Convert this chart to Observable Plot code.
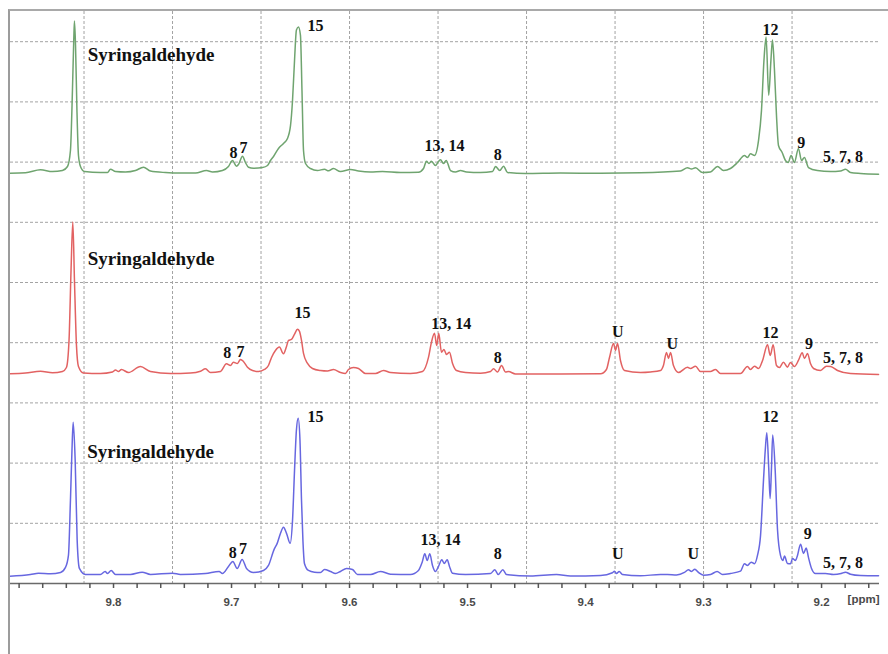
<!DOCTYPE html>
<html>
<head>
<meta charset="utf-8">
<script src="https://cdn.jsdelivr.net/npm/d3@7"></script>
<script src="https://cdn.jsdelivr.net/npm/@observablehq/plot@0.6"></script>
<style>
  body { margin: 0; background: #fff; }
  #chart {
    position: absolute; left: 8px; top: 9px;
    width: 880px; height: 645px;
    border-top: 2px solid #a9a9a9; border-left: 2px solid #9c9c9c;
    overflow: hidden;
  }
</style>
</head>
<body>
<div id="chart"></div>
<script>
// 1H NMR aldehyde region, three stacked spectra: [ppm, intensity (a.u.)]
const topSpectrum = [
  [9.8882,0.3],[9.8746,0.7],[9.8619,3.7],[9.8517,2],[9.8433,3],[9.8390,7],[9.8365,23],[9.8348,83],
  [9.8337,133],[9.8331,152],[9.8322,128],[9.8310,63],[9.8297,18],[9.8280,7],[9.8246,2],[9.8111,1],
  [9.8051,1],[9.8026,4.3],[9.7983,2],[9.7899,1.5],[9.7814,3],[9.7746,6.3],[9.7687,2.5],[9.7560,1],
  [9.7433,0.5],[9.7305,0.5],[9.7212,3],[9.7161,1.5],[9.7077,3],[9.7026,7],[9.6992,13],[9.6958,7.3],
  [9.6941,9],[9.6907,17.3],[9.6882,11],[9.6856,6.3],[9.6814,5.3],[9.6737,6],[9.6695,8],[9.6670,13],
  [9.6644,17],[9.6602,25],[9.6560,30],[9.6526,35],[9.6500,48],[9.6483,73],[9.6466,113],[9.6450,143],
  [9.6433,146],[9.6416,138],[9.6403,83],[9.6390,23],[9.6373,10],[9.6331,5],[9.6272,3],[9.6212,4.3],
  [9.6178,2.7],[9.6136,5],[9.6077,2],[9.5992,4],[9.5924,2.5],[9.5822,1.5],[9.5721,2],[9.5568,1],
  [9.5416,1.3],[9.5373,5],[9.5348,12.3],[9.5327,10],[9.5306,12.3],[9.5272,8],[9.5246,12],[9.5229,13.7],
  [9.5204,10],[9.5181,13],[9.5144,3],[9.5102,1.5],[9.5060,3],[9.5009,1.5],[9.4890,1],[9.4788,2],
  [9.4763,7],[9.4727,3],[9.4695,7.3],[9.4661,1],[9.4509,0],[9.4212,0.5],[9.3873,0.3],[9.3535,0.7],
  [9.3196,2.5],[9.3136,5.7],[9.3102,4.5],[9.3068,5.7],[9.3009,1],[9.2942,1.5],[9.2882,7],[9.2831,3],
  [9.2772,5],[9.2712,11],[9.2653,18],[9.2628,16],[9.2602,19.7],[9.2568,18],[9.2534,33],[9.2509,63],
  [9.2488,113],[9.2470,136],[9.2448,78],[9.2429,113],[9.2416,133],[9.2399,103],[9.2382,58],[9.2365,28],
  [9.2334,21],[9.2306,13],[9.2283,11],[9.2258,18],[9.2230,11],[9.2196,25],[9.2170,13],[9.2145,16],
  [9.2111,6],[9.2035,3],[9.1924,2],[9.1839,2.5],[9.1797,4.3],[9.1755,1],[9.1670,0],[9.1517,-0.7]
];

const middleSpectrum = [
  [9.8882,0.2],[9.8746,1],[9.8619,2.8],[9.8517,1.2],[9.8433,2.5],[9.8399,6.5],[9.8377,33.5],[9.8360,103.5],
  [9.8345,151.5],[9.8331,93.5],[9.8314,28.5],[9.8297,7.5],[9.8255,1],[9.8111,0.5],[9.8009,2],[9.7983,4],
  [9.7958,2.5],[9.7933,4.5],[9.7873,1.5],[9.7772,7.5],[9.7687,2.5],[9.7517,0.5],[9.7348,1],[9.7263,2.8],
  [9.7221,5.2],[9.7178,1.5],[9.7094,2.5],[9.7043,10.2],[9.7009,8.5],[9.6984,11.8],[9.6950,10.5],[9.6924,14.5],
  [9.6899,12.5],[9.6865,6.8],[9.6822,3.5],[9.6771,2.5],[9.6721,4.5],[9.6687,8.5],[9.6661,16.5],[9.6628,23.5],
  [9.6594,26.8],[9.6560,20.2],[9.6534,27.5],[9.6517,33.5],[9.6492,34.5],[9.6467,39.5],[9.6441,44.5],[9.6424,42.5],
  [9.6407,33.5],[9.6390,20.5],[9.6356,10.5],[9.6314,5.5],[9.6246,3.5],[9.6187,3],[9.6136,4.5],[9.6077,1.5],
  [9.6035,0.5],[9.6009,4.5],[9.5967,6.5],[9.5924,5.5],[9.5865,0.5],[9.5780,0.5],[9.5712,3.5],[9.5653,1.5],
  [9.5484,0.5],[9.5382,2.5],[9.5331,16.5],[9.5306,31.5],[9.5280,40.5],[9.5261,28.5],[9.5244,40.5],[9.5221,21.8],
  [9.5200,24.5],[9.5178,19.5],[9.5153,21.8],[9.5127,10.5],[9.5093,3.5],[9.5017,1.5],[9.4890,0.8],[9.4805,2.5],
  [9.4780,5.2],[9.4746,2],[9.4712,8.5],[9.4678,2],[9.4653,2.5],[9.4594,0],[9.4212,0],[9.3873,0.2],
  [9.3823,4.5],[9.3797,16.5],[9.3763,30.5],[9.3746,23.5],[9.3729,30.5],[9.3704,13.5],[9.3670,3.5],[9.3535,1.5],
  [9.3450,2],[9.3365,3.5],[9.3340,8.5],[9.3314,21.5],[9.3297,15.5],[9.3280,21.5],[9.3255,8.5],[9.3212,1.5],
  [9.3136,6.8],[9.3111,5.5],[9.3068,7.8],[9.3026,2.5],[9.2942,2.5],[9.2899,4.5],[9.2857,0.5],[9.2687,0.5],
  [9.2628,7.5],[9.2602,4.5],[9.2568,7.8],[9.2534,5.5],[9.2500,13.5],[9.2458,29.2],[9.2435,18.5],[9.2410,29.2],
  [9.2382,8.5],[9.2357,6.5],[9.2323,11.8],[9.2289,6.8],[9.2264,11.5],[9.2230,7.5],[9.2196,13.5],[9.2164,21.2],
  [9.2145,15.5],[9.2119,20.5],[9.2094,10.5],[9.2068,5.5],[9.2009,3.5],[9.1958,7.8],[9.1924,7.5],[9.1865,3.5],
  [9.1755,0.5],[9.1517,-0.5]
];

const bottomSpectrum = [
  [9.8882,-0.2],[9.8704,1.5],[9.8636,2.8],[9.8534,2.2],[9.8449,3.5],[9.8407,8.5],[9.8382,20.5],[9.8365,75.5],
  [9.8352,125.5],[9.8342,153.2],[9.8325,115.5],[9.8308,35.5],[9.8289,7.5],[9.8238,1.5],[9.8111,1.5],[9.8071,4.5],
  [9.8051,2.5],[9.8020,5.5],[9.7983,1.5],[9.7856,1.5],[9.7757,3.8],[9.7687,1.5],[9.7500,2.8],[9.7433,1.5],
  [9.7221,2.5],[9.7105,4.5],[9.7077,2.5],[9.7026,9.5],[9.6989,14.5],[9.6952,7.5],[9.6910,16.5],[9.6873,7.5],
  [9.6814,3.5],[9.6729,5.5],[9.6687,10.5],[9.6639,26.5],[9.6613,32.5],[9.6585,42.5],[9.6560,48.5],[9.6534,42.5],
  [9.6503,32.5],[9.6483,55.5],[9.6466,105.5],[9.6450,145.5],[9.6435,157.2],[9.6420,135.5],[9.6407,75.5],[9.6395,35.5],
  [9.6382,12.5],[9.6348,5.5],[9.6297,3.8],[9.6246,3.5],[9.6212,6.5],[9.6161,4.5],[9.6119,2.5],[9.6077,4.5],
  [9.6026,7.5],[9.5975,6.5],[9.5933,1.5],[9.5822,1.5],[9.5738,4.5],[9.5653,1.8],[9.5484,1.5],[9.5416,5.5],
  [9.5385,13.5],[9.5362,22.2],[9.5342,15.5],[9.5320,22.2],[9.5297,10.5],[9.5272,4.5],[9.5246,9.5],[9.5218,16.2],
  [9.5198,12.5],[9.5172,16.2],[9.5153,9.5],[9.5128,2.8],[9.5017,1.5],[9.4805,2.5],[9.4769,6.2],[9.4740,1.5],
  [9.4701,6.2],[9.4670,1.5],[9.4467,0],[9.4246,1.5],[9.4128,0],[9.3873,0.5],[9.3772,3.2],[9.3755,4.8],
  [9.3738,2.5],[9.3715,4.5],[9.3687,1.5],[9.3535,0.2],[9.3365,1.5],[9.3306,1.5],[9.3229,1],[9.3162,3.5],
  [9.3128,6.2],[9.3102,4.5],[9.3074,6.8],[9.3043,3.5],[9.3000,0.8],[9.2941,1.5],[9.2885,4.5],[9.2839,1.5],
  [9.2772,2.5],[9.2687,4.8],[9.2653,12.2],[9.2628,10.5],[9.2596,13.8],[9.2568,12.2],[9.2543,20.5],[9.2517,40.5],
  [9.2492,95.5],[9.2477,125.5],[9.2464,142.8],[9.2448,108.5],[9.2436,77.2],[9.2425,105.5],[9.2414,140.5],[9.2393,105.5],
  [9.2373,45.5],[9.2348,20.5],[9.2328,15.5],[9.2314,19.8],[9.2289,12.5],[9.2263,12.2],[9.2246,17.5],[9.2221,15.5],
  [9.2204,20.5],[9.2178,31.5],[9.2153,22.5],[9.2130,27.8],[9.2111,18.5],[9.2085,7.5],[9.2052,2.5],[9.1967,2.5],
  [9.1899,1.5],[9.1834,2.5],[9.1797,3.8],[9.1755,1.8],[9.1670,0.5],[9.1517,0.2]
];

// Peak assignments: [text, ppm, height above the trace baseline]
const topLabels = [
  ["Syringaldehyde", 9.8218, 118], ["8", 9.6983, 21], ["7", 9.6898, 25.5], ["15", 9.6288, 147],
  ["13, 14", 9.5195, 28], ["8", 9.4743, 19], ["12", 9.2432, 143], ["9", 9.2172, 31], ["5, 7, 8", 9.1819, 17]
];
const middleLabels = [
  ["Syringaldehyde", 9.8218, 115], ["8", 9.7037, 21.5], ["7", 9.6924, 22], ["15", 9.6398, 61],
  ["13, 14", 9.5138, 50], ["8", 9.4743, 16.5], ["U", 9.3726, 41.5], ["U", 9.3265, 30.5],
  ["12", 9.2432, 41], ["9", 9.2107, 30.5], ["5, 7, 8", 9.1819, 16.5]
];
const bottomLabels = [
  ["Syringaldehyde", 9.8223, 124], ["8", 9.6989, 23.5], ["7", 9.6902, 27.5], ["15", 9.6288, 158.5],
  ["13, 14", 9.5229, 36], ["8", 9.4743, 22.5], ["U", 9.3726, 22.5], ["U", 9.3087, 22.5],
  ["12", 9.2432, 158.5], ["9", 9.2116, 41.5], ["5, 7, 8", 9.1819, 13.5]
];

// Axis ticks (ppm)
const majorTicks = [9.8, 9.7, 9.6, 9.5, 9.4, 9.3, 9.2];
const minorTicks = d3.range(9.88, 9.15, -0.02).map(v => +v.toFixed(2));
const gridPpm = [9.825, 9.75, 9.675, 9.6, 9.525, 9.45, 9.375, 9.3, 9.225];
const gridLevels = [60, 120, 180, 240, 300, 360, 420, 480, 540];

// Stacking: vertical offset of each trace and its colour
const traces = [
  {data: topSpectrum, labels: topLabels, offset: 408.6, color: "#6fa46f"},
  {data: middleSpectrum, labels: middleLabels, offset: 208.8, color: "#e26262"},
  {data: bottomSpectrum, labels: bottomLabels, offset: 7.5, color: "#6767e0"}
];

const serif = "'Liberation Serif', 'Times New Roman', serif";
const sans = "'Liberation Sans', Arial, sans-serif";
const grid = {stroke: "#a3a3a3", strokeWidth: 1, strokeDasharray: "3,2"};

const marks = [
  Plot.ruleX(gridPpm, grid),
  Plot.ruleY(gridLevels, grid),
  Plot.ruleY([0], {stroke: "#6a6a6a", strokeWidth: 1.6}),
  Plot.axisX({ticks: minorTicks, tickSize: 5, tickFormat: () => "", stroke: "#555", strokeWidth: 1.5}),
  Plot.axisX({ticks: majorTicks, tickSize: 0, tickPadding: 14, tickFormat: d3.format(".1f"),
    fontSize: 11.5, fontWeight: "bold", fontFamily: sans, fill: "#4a4a4a"}),
  Plot.text(["[ppm]"], {frameAnchor: "bottom-right", dy: 19, textAnchor: "end",
    fontSize: 11.5, fontWeight: "bold", fontFamily: sans, fill: "#4a4a4a"})
];

for (const t of traces) {
  marks.push(Plot.line(t.data, {
    x: d => d[0], y: d => d[1] + t.offset,
    stroke: t.color, strokeWidth: 1.5, curve: "monotone-x"
  }));
  const big = t.labels.filter(d => d[0] === "Syringaldehyde");
  const small = t.labels.filter(d => d[0] !== "Syringaldehyde");
  marks.push(Plot.text(big, {
    x: d => d[1], y: d => d[2] + t.offset, text: d => d[0], textAnchor: "start",
    fontFamily: serif, fontWeight: "bold", fontSize: 19, fill: "#111"
  }));
  marks.push(Plot.text(small, {
    x: d => d[1], y: d => d[2] + t.offset, text: d => d[0],
    fontFamily: serif, fontWeight: "bold", fontSize: 16, fill: "#111"
  }));
}

const chart = Plot.plot({
  width: 878, height: 643,
  marginLeft: 0, marginRight: 9, marginTop: 0, marginBottom: 71,
  x: {domain: [9.8873, 9.1509], axis: null},
  y: {domain: [0, 570.1], axis: null},
  style: {background: "transparent", overflow: "visible"},
  marks
});
document.getElementById("chart").append(chart);
</script>
</body>
</html>
